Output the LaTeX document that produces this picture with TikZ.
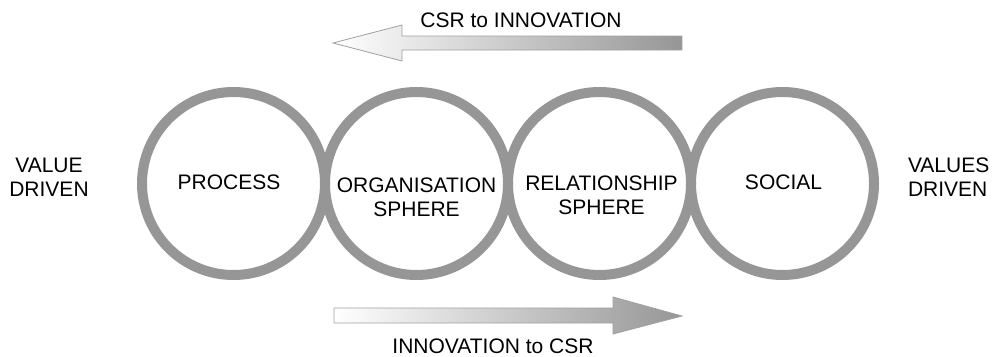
\documentclass[tikz,border=0pt]{standalone}
\usepackage{fontspec}
\setmainfont{Liberation Sans}
\definecolor{ringgray}{RGB}{150,150,150}
\definecolor{arrowgray}{RGB}{150,150,150}
\definecolor{edgegray}{RGB}{160,160,160}
\begin{document}
\begin{tikzpicture}[x=1pt,y=-1pt,
  ring/.style={circle,draw=ringgray,line width=10pt,minimum size=183pt,inner sep=0pt,outer sep=0pt},
  lbl/.style={font=\fontsize{21}{24}\selectfont,inner sep=0pt,outer sep=0pt,text=black,align=center},
  arr/.style={draw=edgegray,line width=0.8pt,left color=white,right color=arrowgray}]
\useasboundingbox (0,0) rectangle (992,356);
% circles
\node[ring] (c1) at (233.5,183.5) {};
\node[ring] (c2) at (416.5,183.5) {};
\node[ring] (c3) at (599.5,183.5) {};
\node[ring] (c4) at (782.5,183.5) {};
% circle labels
\node[lbl] (t1) at (229,182) {PROCESS};
\node[lbl] (t2) at (416.5,197.5) {ORGANISATION\\SPHERE};
\node[lbl] (t3) at (601.5,195.2) {RELATIONSHIP\\SPHERE};
\node[lbl] (t4) at (783.5,182.5) {SOCIAL};
% side labels
\node[lbl] (vl) at (49,177.5) {VALUE\\DRIVEN};
\node[lbl,align=left,anchor=west] (vr) at (908,177.5) {VALUES\\DRIVEN};
% arrows
\path[arr] (333,43) -- (402,25) -- (402,36) -- (682,36) -- (682,50) -- (402,50) -- (402,61) -- cycle;
\path[arr] (682,316) -- (613,297) -- (613,308) -- (334,308) -- (334,323) -- (613,323) -- (613,334) -- cycle;
\node[lbl] (top) at (521,20) {CSR to INNOVATION};
\node[lbl] (bot) at (493,346) {INNOVATION to CSR};
\end{tikzpicture}
\end{document}
